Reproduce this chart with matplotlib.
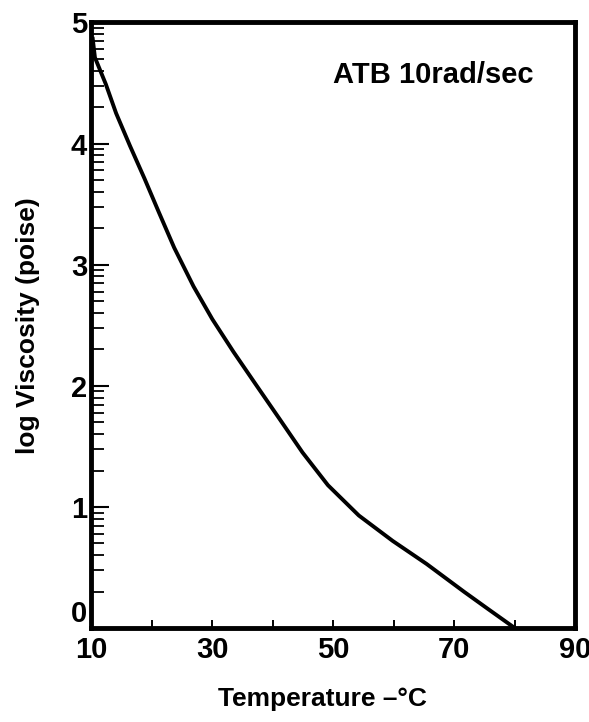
import numpy as np
import matplotlib
matplotlib.use("Agg")
import matplotlib.pyplot as plt

# Data
temperature = [10.2, 10.6, 12.4, 14.1, 16.4, 18.8, 21.1, 23.7, 26.9, 30.0, 33.5,
               37.2, 41.2, 44.9, 49.1, 54.2, 59.8, 65.4, 71.6, 75.5, 80.0]
log_visc = [4.88, 4.71, 4.49, 4.25, 3.98, 3.71, 3.44, 3.14, 2.82, 2.55, 2.28,
            2.01, 1.72, 1.45, 1.18, 0.93, 0.72, 0.53, 0.30, 0.16, 0.0]

x_ticks = [10, 20, 30, 40, 50, 60, 70, 80, 90]
x_ticklabels = ["10", "", "30", "", "50", "", "70", "", "90"]
y_ticks = [0, 1, 2, 3, 4, 5]
y_ticklabels = ["0", "1", "2", "3", "4", "5"]

plt.rcParams['font.family'] = ['Liberation Sans', 'DejaVu Sans']
plt.rcParams['font.weight'] = 'bold'

fig = plt.figure(figsize=(5.89, 7.22), dpi=100)
ax = fig.add_axes([0.155, 0.13, 0.822, 0.839])

ax.plot(temperature, log_visc, color='black', linewidth=2.8,
        solid_capstyle='butt', solid_joinstyle='round')

ax.set_xlim(10, 90)
ax.set_ylim(0, 5)

ax.set_xticks(x_ticks)
ax.set_xticklabels(x_ticklabels)
ax.set_yticks(y_ticks)
ax.set_yticklabels(y_ticklabels)

minor = [n + np.log10(k) for n in range(5) for k in range(2, 10)]
ax.set_yticks(minor, minor=True)

for s in ax.spines.values():
    s.set_linewidth(3.5)

ax.tick_params(axis='x', direction='in', length=6, width=1.4, pad=6,
               labelsize=21)
ax.tick_params(axis='y', which='major', direction='in', length=13, width=1.5,
               pad=3, labelsize=21)
ax.tick_params(axis='y', which='minor', direction='in', length=9, width=1.3)
for lbl in ax.get_xticklabels() + ax.get_yticklabels():
    lbl.set_fontweight('bold')
ax.get_yticklabels()[0].set_va('bottom')

ax.set_xlabel("Temperature –°C", fontsize=19, fontweight='bold')
ax.xaxis.set_label_coords(0.477, -0.097)
ax.set_ylabel("log Viscosity (poise)", fontsize=19, fontweight='bold')
ax.yaxis.set_label_coords(-0.105, 0.5)

ax.text(0.913, 0.9125, "ATB 10rad/sec", transform=ax.transAxes, fontsize=21,
        fontweight='bold', ha='right', va='center')

fig.savefig("out.png", dpi=100)
